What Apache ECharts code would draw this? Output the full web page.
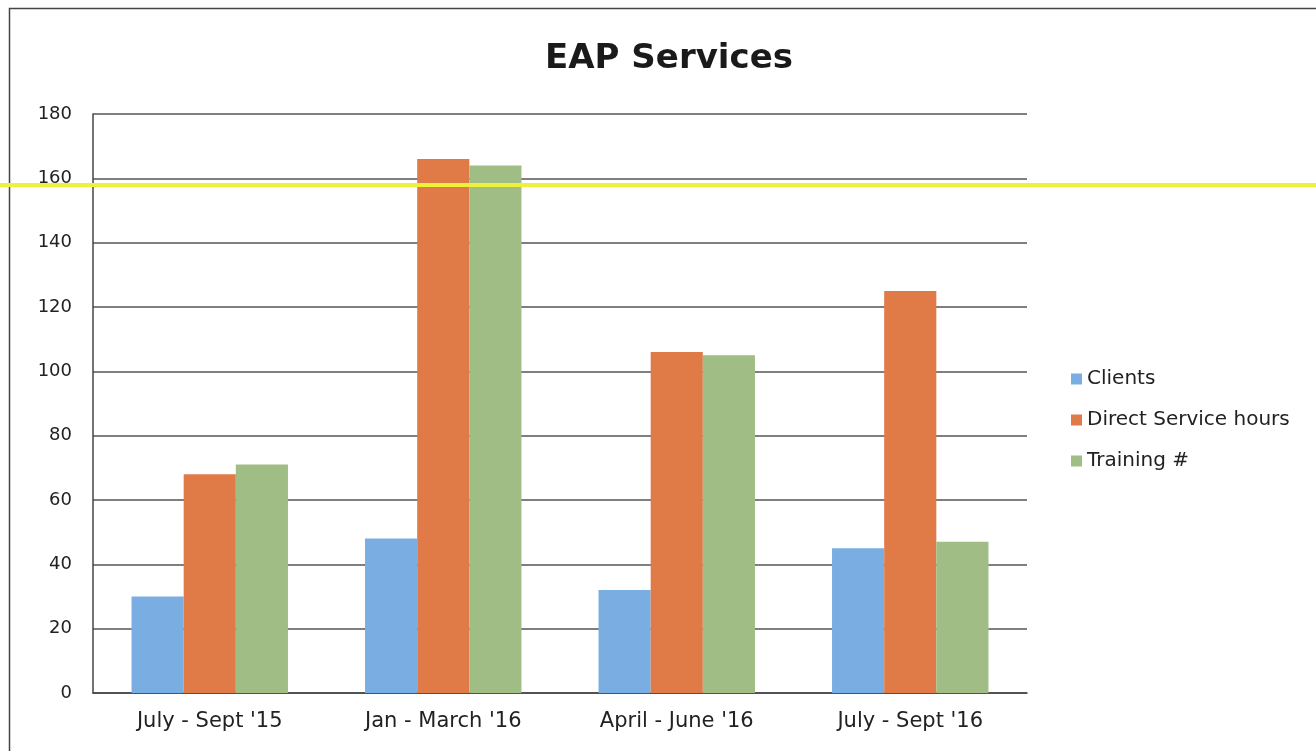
<!DOCTYPE html>
<html><head><meta charset="utf-8">
<script src="https://cdn.jsdelivr.net/npm/echarts@6/dist/echarts.min.js"></script>
<style>html,body{margin:0;padding:0;background:#fff}#c{width:1316px;height:751px}</style>
</head><body><div id="c"></div>
<script>
const categories = ["July - Sept '15", "Jan - March '16", "April - June '16", "July - Sept '16"];
const clients = [30, 48, 32, 45];
const directServiceHours = [68, 166, 106, 125];
const training = [71, 164, 105, 47];
const yTicks = [0, 20, 40, 60, 80, 100, 120, 140, 160, 180];

const font = "'DejaVu Sans', sans-serif";
const chart = echarts.init(document.getElementById('c'));
chart.setOption({
  animation: false,
  backgroundColor: '#fff',
  title: { text: 'EAP Services', left: 664, top: 37, textAlign: 'center',
    textStyle: { fontFamily: font, fontSize: 34, fontWeight: 'bold', color: '#1a1a1a' } },
  grid: { left: 93, right: 289, top: 114, bottom: 58 },
  legend: { orient: 'vertical', left: 1066, top: 364, itemWidth: 11, itemHeight: 11, itemGap: 21,
    icon: 'rect', textStyle: { fontFamily: font, fontSize: 20, color: '#222' },
    data: ['Clients', 'Direct Service hours', 'Training #'] },
  xAxis: { type: 'category', data: categories,
    axisLine: { lineStyle: { color: '#444', width: 1.5 } }, axisTick: { show: false },
    axisLabel: { fontFamily: font, fontSize: 21, color: '#222', margin: 18 } },
  yAxis: { type: 'value', min: yTicks[0], max: yTicks[yTicks.length - 1], interval: 20,
    axisLine: { show: true, lineStyle: { color: '#444', width: 1.5 } }, axisTick: { show: false },
    splitLine: { lineStyle: { color: '#555', width: 1.5 } },
    axisLabel: { fontFamily: font, fontSize: 18, color: '#222', margin: 21 } },
  series: [
    { name: 'Clients', type: 'bar', data: clients, barGap: '0%', barCategoryGap: '33%',
      itemStyle: { color: '#7aaee2' } },
    { name: 'Direct Service hours', type: 'bar', data: directServiceHours,
      itemStyle: { color: '#e07b48' } },
    { name: 'Training #', type: 'bar', data: training,
      itemStyle: { color: '#9fbd84' } }
  ],
  graphic: [
    { type: 'rect', shape: { x: 9.5, y: 8.5, width: 1330, height: 760 },
      style: { fill: 'none', stroke: '#444', lineWidth: 1.5 }, silent: true },
    { type: 'line', shape: { x1: 0, y1: 185, x2: 1316, y2: 185 },
      style: { stroke: '#eef03a', lineWidth: 4 }, z: 100, silent: true }
  ]
});
</script></body></html>
